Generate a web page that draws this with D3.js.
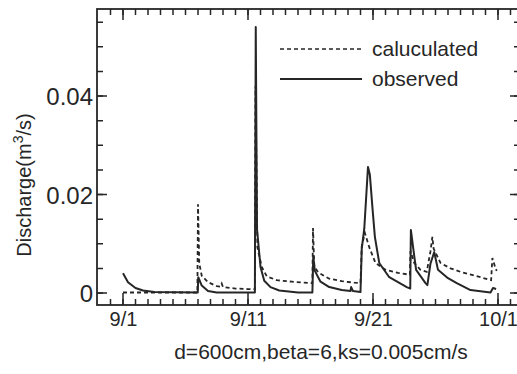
<!DOCTYPE html>
<html><head><meta charset="utf-8">
<script src="https://cdn.jsdelivr.net/npm/d3@7/dist/d3.min.js"></script>
<style>
body{margin:0;background:#fff;}
svg{display:block;font-family:"Liberation Sans",Arial,Helvetica,sans-serif;}
</style></head>
<body><svg id="c" width="517" height="374"></svg>
<script>
// ---- data (day of September; 31 = 10/1) ----
const xTickDays = [1, 11, 21, 31];
const xTickLabels = ["9/1", "9/11", "9/21", "10/1"];
const xMinorDays = [0, 1, 2, 3, 4, 5, 6, 7, 8, 9, 10, 11, 12, 13, 14, 15, 16, 17, 18, 19, 20,
  21, 22, 23, 24, 25, 26, 27, 28, 29, 30, 31, 32];
const yTickValues = [0, 0.02, 0.04];
const yTickLabels = ["0", "0.02", "0.04"];
const yMinorValues = [0, 0.005, 0.01, 0.015, 0.02, 0.025, 0.03, 0.035, 0.04, 0.045, 0.05, 0.055];

const calcDays = [1.0, 6.95, 7.0, 7.1, 7.3, 7.8, 8.5, 8.8, 8.9, 9.0, 10.0, 11.0, 11.55,
  11.6, 11.75, 12.1, 12.5, 13.3, 14.5, 15.5, 16.15,
  16.2, 16.3, 16.6, 17.5, 18.5, 19.5, 20.0,
  20.1, 20.35, 20.7, 21.2, 22.0, 23.0, 23.95,
  24.0, 24.3, 24.8, 25.3, 25.6, 25.75, 25.85, 26.4, 27.2, 28.0, 29.6, 30.45,
  30.55, 30.8, 30.9];
const calcValues = [0.0001, 0.0001, 0.0180, 0.0060, 0.0035, 0.0022, 0.0014, 0.0013, 0.0019, 0.0012, 0.0009, 0.0008, 0.0008,
  0.0420, 0.0093, 0.0053, 0.0034, 0.0026, 0.0023, 0.0021, 0.0020,
  0.0132, 0.0055, 0.0042, 0.0029, 0.0024, 0.0021, 0.0020,
  0.0095, 0.0122, 0.0093, 0.0061, 0.0047, 0.0041, 0.0037,
  0.0085, 0.0061, 0.0047, 0.0043, 0.0085, 0.0114, 0.0090, 0.0061, 0.0050, 0.0043, 0.0032, 0.0026,
  0.0071, 0.0050, 0.0045];

const obsDays = [1.0, 1.4, 2.0, 2.6, 3.5, 6.98, 7.02, 7.3, 7.8, 8.5, 11.55,
  11.62, 11.72, 12.0, 12.3, 12.8, 13.5, 15.0, 16.15,
  16.22, 16.35, 16.8, 17.5, 18.5, 19.2, 19.25, 19.4, 20.0,
  20.1, 20.3, 20.6, 20.75, 20.95, 21.15, 21.5, 22.3, 23.7, 23.98,
  24.03, 24.3, 24.45, 25.2, 25.35, 25.6, 25.9, 26.2, 27.0, 27.7, 28.8, 30.4,
  30.6, 30.85];
const obsValues = [0.0040, 0.0022, 0.0010, 0.0005, 0.0002, 0.0001, 0.0032, 0.0015, 0.0004, 0.0001, 0.0001,
  0.0540, 0.0130, 0.0053, 0.0025, 0.0012, 0.0005, 0.0001, 0.0001,
  0.0075, 0.0045, 0.0023, 0.0012, 0.0006, 0.0004, 0.0012, 0.0004, 0.0002,
  0.0090, 0.0130, 0.0256, 0.0240, 0.0175, 0.0114, 0.0061, 0.0032, 0.0012, 0.0009,
  0.0128, 0.0075, 0.0047, 0.0020, 0.0016, 0.0060, 0.0083, 0.0047, 0.0030, 0.0020, 0.0006, 0.0001,
  0.0010, 0.0008];

// ---- layout ----
const svg = d3.select("#c");
const L = 97, R = 520, T = 9, B = 305;
const x = d3.scaleLinear().domain([1, 31]).range([123, 498]);
const y = d3.scaleLinear().domain([0, 0.04]).range([293, 96]);
const ink = "#262626";

// tick labels via d3 axes
const xb = svg.append("g").attr("transform",`translate(0,${B})`)
  .call(d3.axisBottom(x).tickValues(xTickDays).tickSize(0).tickPadding(7).tickFormat((d,i)=>xTickLabels[i]));
xb.select(".domain").remove();
xb.selectAll("text").attr("font-size",20).attr("fill",ink).attr("font-family","Liberation Sans, Arial, sans-serif");
const yl = svg.append("g").attr("transform",`translate(${L},0)`)
  .call(d3.axisLeft(y).tickValues(yTickValues).tickSize(0).tickPadding(4).tickFormat((d,i)=>yTickLabels[i]));
yl.select(".domain").remove();
yl.selectAll("text").attr("font-size",24).attr("fill",ink).attr("dy","0.36em").attr("font-family","Liberation Sans, Arial, sans-serif");

// tick marks as one path per side, positions from the scales
function xTickPath(vals, y0, len){ return vals.map(d => `M${x(d)},${y0}v${len}`).join(""); }
function yTickPath(vals, x0, len){ return vals.map(d => `M${x0},${y(d)}h${len}`).join(""); }
const tickPaths = [
  xTickPath(xMinorDays, B, -6), xTickPath(xTickDays, B, -12),
  xTickPath(xMinorDays, T, 6),  xTickPath(xTickDays, T, 11),
  yTickPath(yMinorValues, L, 6), yTickPath(yTickValues, L, 10),
  yTickPath(yMinorValues, R, -6), yTickPath(yTickValues, R, -10)
];
svg.append("g").selectAll("path").data(tickPaths).join("path")
  .attr("d", d => d).attr("fill", "none").attr("stroke", ink).attr("stroke-width", 1.5);

// series lines
const line = d3.line().x(d=>x(d[0])).y(d=>y(d[1]));
svg.append("path").datum(d3.zip(calcDays, calcValues)).attr("d",line)
  .attr("fill","none").attr("stroke",ink).attr("stroke-width",1.8).attr("stroke-dasharray","4,3");
svg.append("path").datum(d3.zip(obsDays, obsValues)).attr("d",line)
  .attr("fill","none").attr("stroke",ink).attr("stroke-width",2).attr("stroke-linejoin","round");

// legend
svg.append("path").attr("d","M280,49H362").attr("fill","none")
  .attr("stroke",ink).attr("stroke-width",1.5).attr("stroke-dasharray","4,3");
svg.append("text").attr("x",372).attr("y",56).attr("font-size",21).attr("fill",ink).text("caluculated");
svg.append("path").attr("d","M280,79H362").attr("fill","none")
  .attr("stroke",ink).attr("stroke-width",1.8);
svg.append("text").attr("x",372).attr("y",86).attr("font-size",21).attr("fill",ink).text("observed");

// axis title
const yt0 = svg.append("text").attr("transform","translate(31,185) rotate(-90)").attr("text-anchor","middle")
  .attr("font-size",20).attr("fill",ink);
yt0.append("tspan").text("Discharge(m");
yt0.append("tspan").attr("dy",-8).attr("font-size",14).text("3");
yt0.append("tspan").attr("dy",8).text("/s)");
// caption
svg.append("text").attr("x",321).attr("y",359).attr("text-anchor","middle")
  .attr("font-size",21).attr("fill",ink).text("d=600cm,beta=6,ks=0.005cm/s");

// frame
svg.append("rect").attr("x",L).attr("y",T).attr("width",R-L).attr("height",B-T)
  .attr("fill","none").attr("stroke",ink).attr("stroke-width",1.8);
</script></body></html>
